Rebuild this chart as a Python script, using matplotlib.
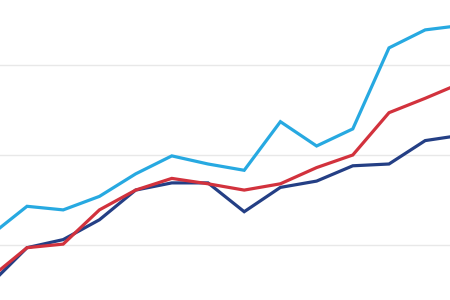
import matplotlib
matplotlib.use("Agg")
import matplotlib.pyplot as plt

periods = list(range(14))
series_light = [11.1, 14.3, 13.9, 15.4, 17.9, 19.9, 19.0, 18.3, 23.7, 21.0, 22.9, 31.9, 33.9, 34.4]
series_red = [6.4, 9.7, 10.1, 13.9, 16.1, 17.4, 16.8, 16.1, 16.8, 18.6, 20.0, 24.7, 26.3, 28.0]
series_navy = [5.7, 9.7, 10.6, 12.8, 16.1, 16.9, 16.9, 13.7, 16.4, 17.1, 18.8, 19.0, 21.6, 22.2]
grid_values = [10, 20, 30]

fig = plt.figure(figsize=(4.5, 3.0), dpi=100)
ax = fig.add_axes([0, 0, 1, 1])
for g in grid_values:
    ax.axhline(g, color="#e8e8e8", lw=1.0, zorder=0)
ax.plot(periods, series_navy, color="#243f85", lw=2.3, solid_joinstyle="miter", zorder=2)
ax.plot(periods, series_red, color="#d2323d", lw=2.3, solid_joinstyle="miter", zorder=3)
ax.plot(periods, series_light, color="#27a9e1", lw=2.3, solid_joinstyle="miter", zorder=4)
ax.set_xlim(0.254, 12.685)
ax.set_ylim(3.889, 37.22)
ax.axis("off")
fig.savefig("out.png", dpi=100)
